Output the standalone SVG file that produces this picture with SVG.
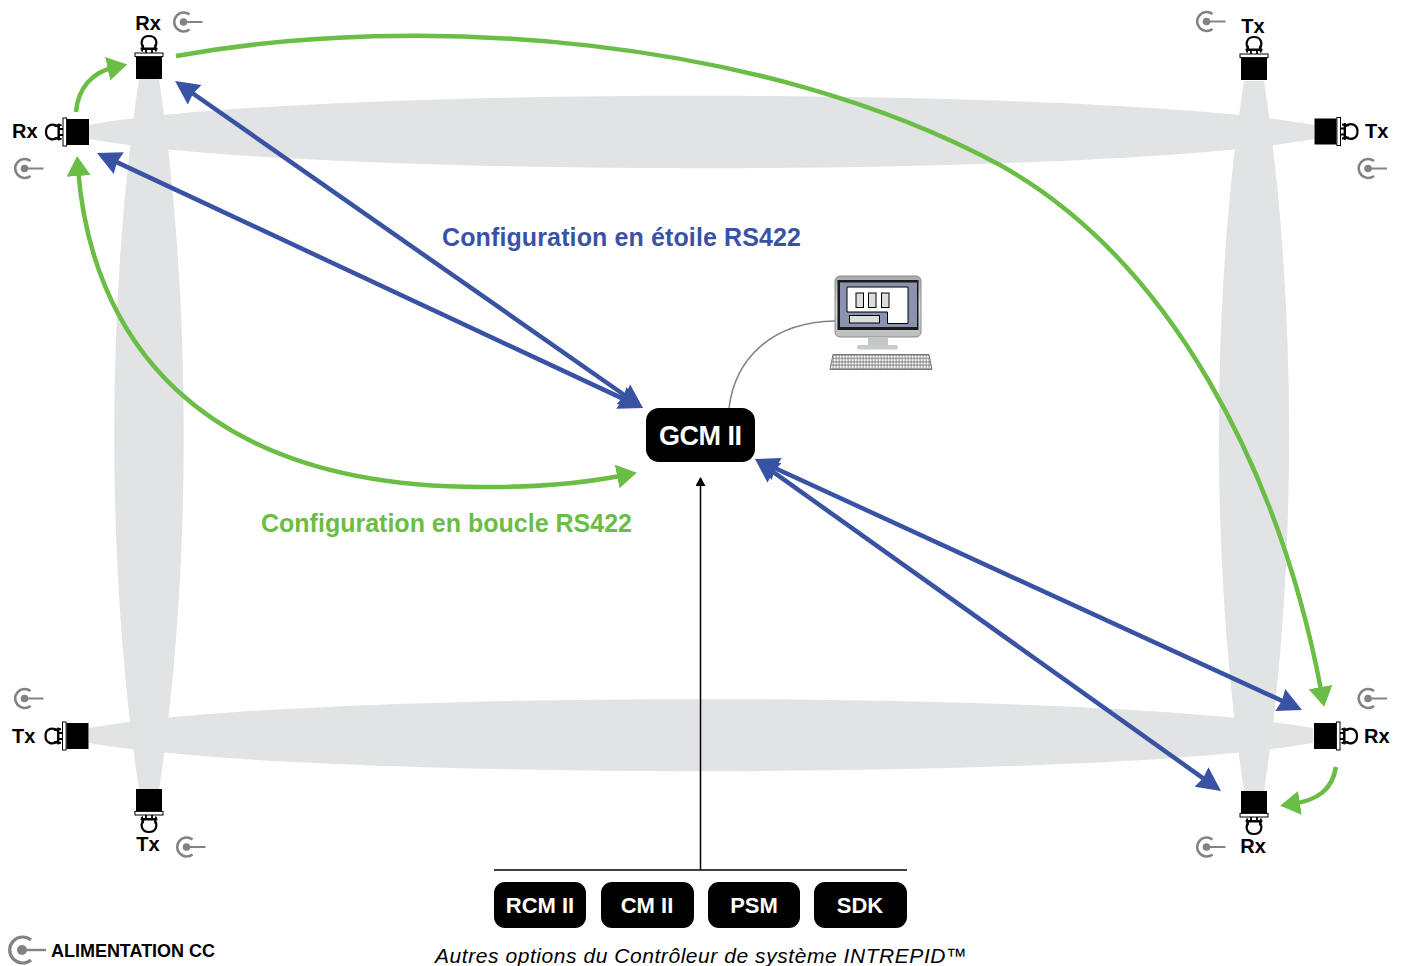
<svg xmlns="http://www.w3.org/2000/svg" width="1402" height="966" viewBox="0 0 1402 966">
<style>
text{font-family:"Liberation Sans",Arial,sans-serif;font-weight:700;fill:#000}
.lab{font-size:20px}
.box{fill:#000}
.wt{fill:#fff;font-size:22px;text-anchor:middle}
.blue{fill:none;stroke:#3953a4;stroke-width:4.500;marker-start:url(#bh);marker-end:url(#bh)}
.green{fill:none;stroke:#6abd45;stroke-width:4.500;marker-end:url(#gh)}
.both{marker-start:url(#gh)}
.beam{fill:#e1e3e5}
.pw{fill:none;stroke:#808285;stroke-width:2.600}
</style>
<defs>
<marker id="bh" markerUnits="userSpaceOnUse" markerWidth="28" markerHeight="26" refX="10" refY="12" orient="auto-start-reverse"><path d="M0 0L24 12L0 24L2 12Z" fill="#3953a4"/></marker>
<marker id="gh" markerUnits="userSpaceOnUse" markerWidth="24" markerHeight="26" refX="8" refY="12" orient="auto-start-reverse"><path d="M0 0L20 12L0 24Z" fill="#6abd45"/></marker>
<marker id="kh" markerUnits="userSpaceOnUse" markerWidth="12" markerHeight="12" refX="8" refY="5" orient="auto"><path d="M0 0L9 5L0 10Z" fill="#000"/></marker>
<g id="sensor">
<rect x="-13" y="-11" width="26" height="22" fill="#000"/>
<rect x="-14" y="-15" width="28" height="3.600" fill="#fff" stroke="#000" stroke-width="1"/>
<path d="M-5.500 -20C-9 -25 -7.500 -32 0 -32C7.500 -32 9 -25 5.500 -20" fill="#fff" stroke="#000" stroke-width="2.200"/>
<rect x="-8.500" y="-20.500" width="17" height="2.400" rx="1" fill="#000"/>
<path d="M-6 -23.500L-7 -16.500M6 -23.500L7 -16.500M-3 -19V-15M3 -19V-15" stroke="#000" stroke-width="1.800" fill="none"/>
</g>
<g id="power">
<path class="pw" d="M6 -7.500A9.500 9.500 0 1 0 6 7.500"/>
<circle r="3.800" fill="#808285"/>
<path d="M0 0H19" stroke="#808285" stroke-width="2"/>
</g>
<linearGradient id="mon" x1="0" y1="0" x2="0" y2="1"><stop offset="0" stop-color="#a8a9ad"/><stop offset=".5" stop-color="#d6d7d9"/><stop offset="1" stop-color="#bcbdc0"/></linearGradient>
<pattern id="keys" width="3" height="3.400" patternUnits="userSpaceOnUse" x="830" y="355"><rect width="3" height="3.400" fill="#77787b"/><rect x=".5" y=".5" width="2.200" height="2.400" fill="#fff"/></pattern>
</defs>

<g id="beams">
<path class="beam" d="M89 125C300 86 1100 86 1314 125V139C1100 178 300 178 89 139Z"/>
<path class="beam" d="M89 728C300 689.500 1100 689.500 1313 728V743C1100 780.500 300 780.500 89 743Z"/>
<path class="beam" d="M139 79C106 300 106 570 139 790H159C192 570 192 300 159 79Z"/>
<path class="beam" d="M1244 81C1210.500 300 1210.500 570 1244 791H1264C1297.500 570 1297.500 300 1264 81Z"/>
</g>

<g id="connectors">
<path class="blue" d="M186.500 89L631.500 400"/>
<path class="blue" d="M109.700 158.900L630.300 402.100"/>
<path class="blue" d="M767.700 464.800L1289.300 704.200"/>
<path class="blue" d="M766.400 467.100L1209.600 782.900"/>
<path class="green" d="M76 112C78 88 92 72 115.500 67"/>
<path class="green" d="M176 56C420 12 760 36 1000 165C1170 260 1280 470 1322 695"/>
<path class="green both" d="M625 475C590 482 540 487 490 487C190 490 90 330 78 168"/>
<path class="green" d="M1336 767C1332 790 1318 800 1292 804"/>
<path d="M729 408C735 360 770 322 835 321" fill="none" stroke="#808285" stroke-width="1.500"/>
<path d="M700.500 870V478" fill="none" stroke="#000" stroke-width="1.500" marker-end="url(#kh)"/>
<path d="M494 870H907" fill="none" stroke="#000" stroke-width="1.500"/>
</g>

<g id="sensor-tl1"><use href="#sensor" transform="translate(149,68)"/><text class="lab" x="148" y="30" text-anchor="middle">Rx</text><use href="#power" transform="translate(183.500,22)"/></g>
<g id="sensor-tl2"><use href="#sensor" transform="translate(78,132) rotate(-90)"/><text class="lab" x="12" y="138">Rx</text><use href="#power" transform="translate(24.500,168.500)"/></g>
<g id="sensor-tr1"><use href="#sensor" transform="translate(1254,69)"/><text class="lab" x="1253" y="33" text-anchor="middle">Tx</text><use href="#power" transform="translate(1206.500,21.500)"/></g>
<g id="sensor-tr2"><use href="#sensor" transform="translate(1325.500,131.500) rotate(90)"/><text class="lab" x="1365" y="138">Tx</text><use href="#power" transform="translate(1368,168.500)"/></g>
<g id="sensor-bl1"><use href="#sensor" transform="translate(77.500,736) rotate(-90)"/><text class="lab" x="12" y="743">Tx</text><use href="#power" transform="translate(24.500,698.500)"/></g>
<g id="sensor-bl2"><use href="#sensor" transform="translate(149,800) rotate(180)"/><text class="lab" x="148" y="851" text-anchor="middle">Tx</text><use href="#power" transform="translate(186.500,847)"/></g>
<g id="sensor-br1"><use href="#sensor" transform="translate(1325,736) rotate(90)"/><text class="lab" x="1364" y="743">Rx</text><use href="#power" transform="translate(1368,698.500)"/></g>
<g id="sensor-br2"><use href="#sensor" transform="translate(1254,802) rotate(180)"/><text class="lab" x="1253" y="853" text-anchor="middle">Rx</text><use href="#power" transform="translate(1206.500,847)"/></g>

<g id="gcm"><rect class="box" x="646" y="408" width="109" height="54" rx="13"/><text x="659" y="445" textLength="83" style="fill:#fff;font-size:27px">GCM II</text></g>
<g id="rcm"><rect class="box" x="494" y="882" width="92" height="46" rx="11"/><text class="wt" x="540" y="913">RCM II</text></g>
<g id="cm"><rect class="box" x="601" y="882" width="93" height="46" rx="11"/><text class="wt" x="647" y="913">CM II</text></g>
<g id="psm"><rect class="box" x="708" y="882" width="92" height="46" rx="11"/><text class="wt" x="754" y="913">PSM</text></g>
<g id="sdk"><rect class="box" x="814" y="882" width="93" height="46" rx="11"/><text class="wt" x="860" y="913">SDK</text></g>

<g id="computer">
<rect x="835" y="276" width="86" height="61" rx="5" fill="url(#mon)" stroke="#8a8b8e"/>
<rect x="837.500" y="280" width="81" height="50" fill="#1a1a1a"/>
<rect x="840" y="282.500" width="77" height="44.500" fill="#8a93ad"/>
<path d="M847 287H908V323.500H887.500V312H847Z" fill="#fff" stroke="#000" stroke-width="1"/>
<rect x="856" y="293" width="7.500" height="14.500" fill="#dcdddd" stroke="#000"/>
<rect x="868.500" y="293" width="7.500" height="14.500" fill="#dcdddd" stroke="#000"/>
<rect x="881.500" y="293" width="7.500" height="14.500" fill="#dcdddd" stroke="#000"/>
<rect x="849.500" y="315.500" width="30" height="7.500" fill="#dcdddd" stroke="#000"/>
<rect x="868" y="337" width="20" height="9" fill="#c4c5c7"/>
<rect x="857" y="345" width="41" height="4.500" rx="2" fill="#c9cacc"/>
<path d="M833 354.500H929L932 369.500H830Z" fill="url(#keys)" stroke="#77787b"/>
</g>

<g id="labels">
<text x="442" y="246" font-size="25" textLength="359" style="fill:#3953a4">Configuration en étoile RS422</text>
<text x="261" y="532" font-size="25" textLength="371" style="fill:#6abd45">Configuration en boucle RS422</text>
<text x="435" y="963" font-size="21" textLength="532" style="font-weight:400;font-style:italic">Autres options du Contrôleur de système INTREPID™</text>
</g>

<g id="legend">
<path d="M9 -10A13 13 0 1 0 9 10" transform="translate(22,950)" fill="none" stroke="#808285" stroke-width="3.200"/>
<circle cx="22" cy="950" r="5" fill="#808285"/>
<path d="M22 950H46" stroke="#808285" stroke-width="2.400"/>
<text x="51" y="957" font-size="18" textLength="164">ALIMENTATION CC</text>
</g>
</svg>
